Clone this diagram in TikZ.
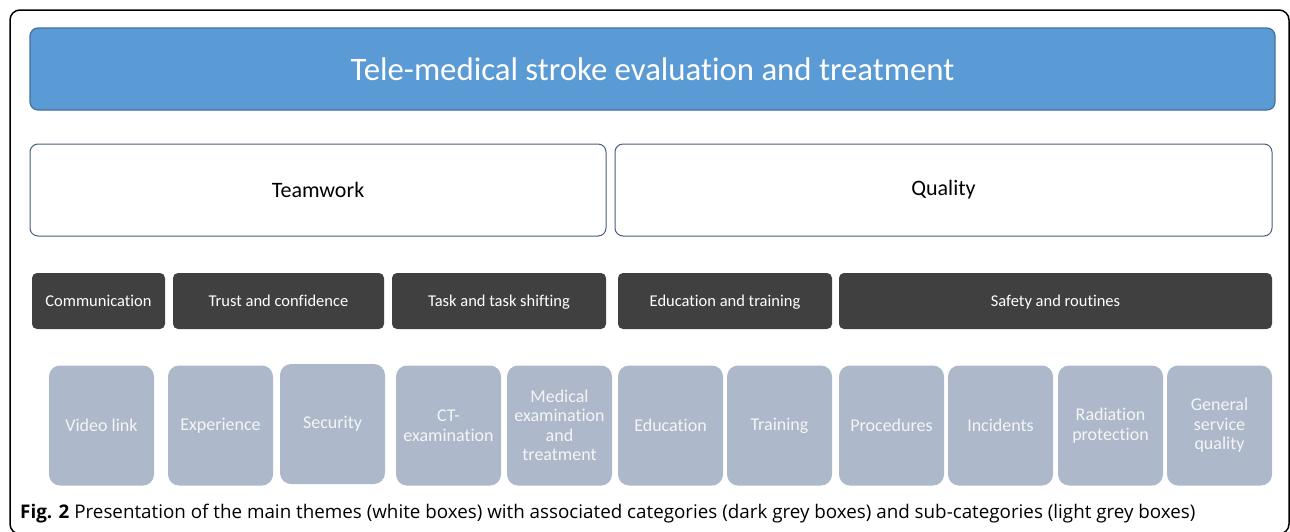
\documentclass[tikz,border=0pt]{standalone}
\usepackage{fontspec}
\setmainfont{Carlito}[Ligatures=NoCommon]
\newfontfamily\capfont{Open Sans}
\usepackage{xcolor}
\usepackage{tikz}
\usetikzlibrary{positioning}

\definecolor{titleblue}{HTML}{5B9BD5}
\definecolor{titleedge}{HTML}{41719C}
\definecolor{themeedge}{HTML}{4A5D7E}
\definecolor{catgrey}{HTML}{404040}
\definecolor{subgrey}{HTML}{ADB9CA}

\begin{document}
\begin{tikzpicture}[x=1pt,y=-1pt,
	title/.style={draw=titleedge,line width=1.2pt,fill=titleblue,rounded corners=8pt,
		text=white,font=\fontsize{32.8}{38}\selectfont,minimum width=1245pt,minimum height=82pt},
	theme/.style={draw=themeedge,line width=1pt,fill=white,rounded corners=8pt,
		font=\fontsize{22}{26}\selectfont,minimum height=92pt},
	cat/.style={fill=catgrey,rounded corners=5pt,text=white,text height=13pt,text depth=2pt,
		font=\fontsize{16.5}{20}\selectfont,minimum height=56pt},
	sub/.style={fill=subgrey,rounded corners=11pt,text=white!96!black,align=center,
		font=\fontsize{18}{19.5}\selectfont,minimum width=105pt,minimum height=120pt,inner sep=0pt}]
	\useasboundingbox (0,0) rectangle (1290,531);
	\clip (0,0) rectangle (1290,531);
	% outer frame
	\draw[line width=1.5pt,rounded corners=10pt] (10,10) rectangle (1289,534);

	% main title
	\node[title] (stroke) at (652.5,69) {Tele-medical stroke evaluation and treatment};

	% themes
	\node[theme,minimum width=576pt] (teamwork) at (318,190) {Teamwork};
	\node[theme,minimum width=657pt] (quality) at (943.5,190) {Quality};

	% categories
	\node[cat,minimum width=133pt] (communication) at (98.5,301) {Communication};
	\node[cat,minimum width=211pt] (trust) at (278.5,301) {Trust and confidence};
	\node[cat,minimum width=214pt] (task) at (499,301) {Task and task shifting};
	\node[cat,minimum width=214pt] (edutrain) at (725,301) {Education and training};
	\node[cat,minimum width=433pt] (safety) at (1055.5,301) {Safety and routines};

	% sub-categories
	\node[sub] (videolink) at (101.5,425.5) {Video link};
	\node[sub] (experience) at (220.5,425.5) {Experience};
	\node[sub] (security) at (332.5,424) {Security};
	\node[sub] (ctexam) at (448.5,425.5) {CT-\\examination};
	\node[sub] (medexam) at (559.5,425.5) {Medical\\examination\\and\\treatment};
	\node[sub] (education) at (670.5,425.5) {Education};
	\node[sub] (training) at (779.5,425.5) {Training};
	\node[sub] (procedures) at (891.5,425.5) {Procedures};
	\node[sub] (incidents) at (1000.5,425.5) {Incidents};
	\node[sub] (radiation) at (1110.5,425.5) {Radiation\\protection};
	\node[sub] (service) at (1219.5,425.5) {General\\service\\quality};

	% caption
	\node[anchor=base west,inner sep=0pt,font=\capfont\fontsize{18.8}{22}\selectfont] (caption) at (20,518)
		{\textbf{Fig. 2} Presentation of the main themes (white boxes) with associated categories (dark grey boxes) and sub-categories (light grey boxes)};
\end{tikzpicture}
\end{document}
